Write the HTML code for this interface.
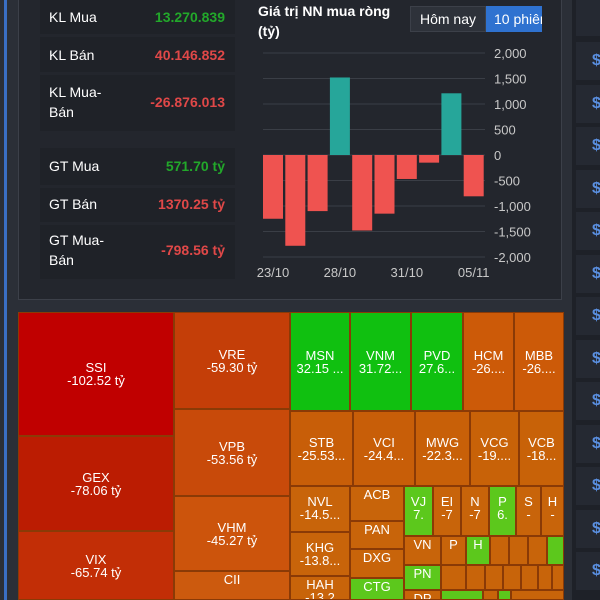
<!DOCTYPE html>
<html><head><meta charset="utf-8">
<style>
body{margin:0;width:600px;height:600px;overflow:hidden;background:#2b2f37;font-family:"Liberation Sans",sans-serif;position:relative}
.abs{position:absolute}
.row{position:absolute;left:40px;width:195px;background:#1f2228;color:#fff;font-size:14px}
.row .l{position:absolute;left:9px;line-height:20px}
.row .v{position:absolute;right:10px;font-weight:bold;font-size:14px}
.g{color:#22a82a}.r{color:#e04848}
.cell{position:absolute;box-sizing:border-box;border:1px solid #8a3a06;color:#fff;font-size:12px;text-align:center;line-height:13px;overflow:hidden;white-space:nowrap}
.cell b{font-weight:normal;font-size:13px}
.rc{position:absolute;left:576px;width:24px;height:38px;background:#252932;color:#5a8fe0;font-weight:bold;font-size:16px;line-height:38px;padding-left:16px;box-sizing:border-box}
</style></head><body>
<div class="abs" style="left:4px;top:0;width:3px;height:600px;background:#3a6fc4"></div>
<div class="abs" style="left:18px;top:-2px;width:544px;height:302px;background:#23262d;border:1px solid #3c4049;box-sizing:border-box"></div>

<div class="row" style="top:0;height:34px"><span class="l" style="top:7px">KL Mua</span><span class="v g" style="top:9px">13.270.839</span></div>
<div class="row" style="top:37px;height:35px"><span class="l" style="top:8px">KL Bán</span><span class="v r" style="top:10px">40.146.852</span></div>
<div class="row" style="top:75px;height:56px"><span class="l" style="top:7px">KL Mua-<br>Bán</span><span class="v r" style="top:19px">-26.876.013</span></div>
<div class="row" style="top:148px;height:37px"><span class="l" style="top:8px">GT Mua</span><span class="v g" style="top:10px">571.70 tỷ</span></div>
<div class="row" style="top:188px;height:34px"><span class="l" style="top:6px">GT Bán</span><span class="v r" style="top:8px">1370.25 tỷ</span></div>
<div class="row" style="top:225px;height:54px"><span class="l" style="top:5px">GT Mua-<br>Bán</span><span class="v r" style="top:17px">-798.56 tỷ</span></div>

<div class="abs" style="left:258px;top:1px;color:#fff;font-weight:bold;font-size:14px;line-height:20px">Giá trị NN mua ròng<br>(tỷ)</div>
<div class="abs" style="left:410px;top:6px;width:76px;height:26px;background:#2e323a;border:1px solid #3c4049;box-sizing:border-box;color:#fff;font-size:14px;line-height:24px;text-align:center">Hôm nay</div>
<div class="abs" style="left:486px;top:6px;width:56px;height:26px;background:#2f72d0;color:#fff;font-size:14px;line-height:26px;padding-left:8px;box-sizing:border-box;overflow:hidden;white-space:nowrap">10 phiên</div>

<svg class="abs" style="left:0;top:0" width="600" height="300" id="chart"></svg>

<div id="tm"></div>

<div class="abs" style="left:572px;top:0;width:28px;height:600px;background:#1e2128"></div>
<div id="rcol"></div>

<script>
const dates=["23/10","24/10","25/10","28/10","29/10","30/10","31/10","01/11","04/11","05/11"];
const netValues=[-1250,-1780,-1100,1520,-1480,-1150,-470,-150,1210,-810];
const yTicks=[2000,1500,1000,500,0,-500,-1000,-1500,-2000];
const xLabelIdx=[0,3,6,9];
const ns="http://www.w3.org/2000/svg";
const svg=document.getElementById('chart');
const y=v=>155-v*(102/2000);
const x=i=>263+i*22.3;
const bw=20;
function mk(t,a){const e=document.createElementNS(ns,t);for(const k in a)e.setAttribute(k,a[k]);svg.appendChild(e);return e;}
yTicks.forEach(t=>{
 const l=mk('line',{x1:263,x2:485,y1:y(t),y2:y(t),stroke:'#3a3e46','stroke-width':1});
 
 
 const tx=mk('text',{x:494,y:y(t)+5,fill:'#c8c8c8','font-size':13,'font-family':'Liberation Sans, sans-serif'});
 tx.textContent=t.toLocaleString('en-US');
 
 
});
netValues.forEach((v,i)=>{
 const r=mk('rect',{x:x(i),width:bw,y:Math.min(y(v),y(0)),height:Math.abs(y(v)-y(0)),fill:v>=0?'#26a69a':'#ef5350'});
 
 
});
xLabelIdx.forEach(i=>{
 const tx=mk('text',{x:x(i)+bw/2,y:277,fill:'#c8c8c8','font-size':13,'text-anchor':'middle','font-family':'Liberation Sans, sans-serif'});
 tx.textContent=dates[i];
 
 
});

// treemap cells: [label, value, x, y, w, h, color]
const R='#c00000',O='#c8640a',G='#10c010',L='#5cc81c';
const cells=[
["SSI","-102.52 tỷ",18,312,156,124,"#c00000"],
["GEX","-78.06 tỷ",18,436,156,95,"#bb1c02"],
["VIX","-65.74 tỷ",18,531,156,69,"#c22e06"],
["VRE","-59.30 tỷ",174,312,116,97,"#c43e08"],
["VPB","-53.56 tỷ",174,409,116,87,"#c84a0a"],
["VHM","-45.27 tỷ",174,496,116,75,"#cc540c"],
["CII","",174,571,116,29,"#cc5a0e"],
["MSN","32.15 ...",290,312,60,99,G],
["VNM","31.72...",350,312,61,99,G],
["PVD","27.6...",411,312,52,99,G],
["HCM","-26....",463,312,51,99,"#cc5a08"],
["MBB","-26....",514,312,50,99,"#cc5a08"],
["STB","-25.53...",290,411,63,75,"#c85e08"],
["VCI","-24.4...",353,411,62,75,"#c85e08"],
["MWG","-22.3...",415,411,55,75,"#c86008"],
["VCG","-19....",470,411,49,75,"#c86208"],
["VCB","-18...",519,411,45,75,"#c86208"],
["NVL","-14.5...",290,486,60,46,O],
["KHG","-13.8...",290,532,60,44,O],
["HAH","-13.2",290,576,60,24,O],
["ACB","",350,486,54,35,O],
["PAN","",350,521,54,28,O],
["DXG","",350,549,54,29,O],
["CTG","",350,578,54,22,L],
["VJ","7.",404,486,29,50,L],
["EI","-7",433,486,28,50,O],
["N","-7",461,486,28,50,O],
["P","6.",489,486,27,50,L],
["S","-",516,486,25,50,O],
["H","-",541,486,23,50,O],
["VN","",404,536,37,29,O],
["P","",441,536,25,29,O],
["H","",466,536,24,29,L],
["","",490,536,19,29,O],["","",509,536,19,29,O],["","",528,536,19,29,O],["","",547,536,17,29,L],
["PN","",404,565,37,25,L],
["","",441,565,25,25,O],["","",466,565,19,25,O],["","",485,565,18,25,O],["","",503,565,18,25,O],["","",521,565,17,25,O],["","",538,565,14,25,O],["","",552,565,12,25,O],
["DP","",404,590,37,10,O],["","",441,590,42,10,L],["","",483,590,15,10,O],["","",498,590,13,10,L],["","",511,590,53,10,O]
];
const tm=document.getElementById('tm');
cells.forEach(c=>{
 const d=document.createElement('div');
 d.className='cell';
 d.style.cssText=`left:${c[2]}px;top:${c[3]}px;width:${c[4]}px;height:${c[5]}px;background:${c[6]};`;
 const big=c[4]>100;
 const pad=c[5]>60?(c[5]/2-14):(c[5]>40?8:1);
 d.innerHTML=c[0]?`<div style="padding-top:${pad}px;font-size:${big?13:13}px">${c[0]}${c[1]?'<br>'+c[1]:''}</div>`:'';
 
 
 tm.appendChild(d);
});
const rc=document.getElementById('rcol');
for(let i=0;i<14;i++){
 const d=document.createElement('div');
 d.className='rc';
 d.style.top=(i===0?0:42+(i-1)*42.5)+'px';
 d.style.height=(i===0?36:38)+'px';
 d.textContent=i===0?'':'$';
 
 
 rc.appendChild(d);
}
</script>
</body></html>
